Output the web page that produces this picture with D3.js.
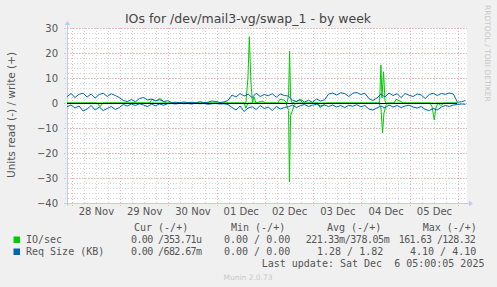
<!DOCTYPE html>
<head>
    <meta charset="utf-8">
    <title>IOs for /dev/mail3-vg/swap_1 - by week</title>
    <script type="text/javascript" src="https://d3js.org/d3.v7.min.js"></script>
    <style>
        body { margin: 0; background: #f0f0f0; }
        svg { display: block; }
    </style>
</head>
<body>
<div id="container"></div>

<script>
    //------------------------1. DATA------------------------//
    // time window of the graph (UTC), blue series sampled every 2 hours from start
    const startTime = Date.UTC(2025, 10, 27, 21, 40);
    const spanHours = 198.76;
    const stepHours = 2;

    const dayLabels = ["28 Nov", "29 Nov", "30 Nov", "01 Dec", "02 Dec", "03 Dec", "04 Dec", "05 Dec"];
    const yTicks = [30, 20, 10, 0, -10, -20, -30, -40];

    // Req Size (KB) write (+)
    const reqWrite = [2.5, 3.8, 2.2, 3.5, 3.9, 2.4, 3.6, 2.0, 3.4, 3.9, 2.6, 3.7, 3.0, 2.2,
        1.0, 0.6, 1.4, 0.5, 1.8, 2.2, 1.2, 1.6, 0.9, 1.3, 0.6, 0.9,
        0.2, 0.3, 0.1, 0.4, 0.2, 0.3, 0.1, 0.5, 0.2, 0.3, 0.8, 0.6, 0.2, 0.4, 1.0,
        3.2, 2.4, 3.8, 2.8, 3.5, 2.2, 3.9, 2.6, 3.4, 2.9, 3.7, 2.3, 3.6, 3.0,
        2.8, 1.2, 0.6, 1.5, 0.4, 1.1, 0.3, 1.6, 0.8, 1.3,
        3.6, 4.0, 3.2, 4.1, 3.8, 2.6, 3.9, 4.2, 3.4, 3.9,
        1.8, 1.0, 2.0,
        3.5, 2.4, 4.0, 3.0, 3.7, 2.2, 3.8, 3.1,
        2.6, 3.6, 3.2, 1.8,
        3.4, 3.9, 3.0, 3.8, 3.5, 4.0, 3.6,
        0.3, 0.5, 1.0];

    // Req Size (KB) read (-)
    const reqRead = [-1.5, -0.8, -2.0, -1.2, -3.2, -2.4, -1.0, -2.8, -1.6, -3.0, -2.2, -1.4, -2.6, -1.8,
        -0.6, -1.2, -0.4, -1.0, -0.3, -0.8, -1.4, -0.5, -1.1, -0.4, -0.9, -0.3,
        -0.2, -0.4, -0.1, -0.3, -0.2, -0.4, -0.1, -0.3, -0.2, -0.5, -0.3, -0.2, -0.4, -0.3, -0.6,
        -1.8, -2.8, -1.2, -3.4, -2.0, -1.5, -2.6, -1.0, -2.2, -1.6, -3.0, -1.4, -2.4, -1.8,
        -1.5, -0.8, -1.8, -1.0, -0.6, -1.4, -0.9, -0.5, -1.2, -0.8,
        -1.4, -0.8, -1.6, -1.0, -1.8, -0.9, -1.3, -0.7, -1.5, -1.0,
        -2.4, -2.8, -2.0,
        -1.2, -2.0, -0.8, -1.6, -1.0, -1.8, -1.2, -0.9,
        -1.6, -2.0, -1.4, -2.6,
        -3.0, -2.2, -2.8, -1.6, -1.0, -1.4, -0.8,
        -0.6, -0.4, -0.5];

    // IO/sec write (+) : [hours after start, value]
    const ioWrite = [[0, 0], [41.2, 0], [42.2, 1.5], [44.2, 0.8], [46.2, 1.8], [48.2, 0.5], [49.2, 0],
        [88.9, 0], [89.9, 10], [90.6, 26.5], [91.4, 8], [92.2, 0], [92.9, 2.5], [93.9, 0],
        [96.9, 0.8], [98.9, 0], [104.8, 0], [105.8, 1.5], [107.8, 1.2], [109.3, 0],
        [110.1, 3], [110.6, 20.8], [111.1, 2], [111.8, 0], [115.8, 1.2], [117.3, 0],
        [155.3, 0], [156.0, 15.2], [156.5, 2], [157.3, 12.5], [158.0, 1], [158.5, 0],
        [162.5, 0], [163.5, 1.5], [165.5, 0.8], [167.0, 0], [193.8, 0]];

    // IO/sec read (-)
    const ioRead = [[0, 0], [14.9, 0], [16.4, -1.5], [17.9, 0], [88.0, 0], [88.9, -2], [89.9, 0],
        [108.8, 0], [110.1, -3], [110.5, -31.5], [111.1, -5], [111.8, -3.5], [112.8, -1], [113.8, 0],
        [124.7, 0], [125.7, -1.8], [127.2, -1], [128.7, 0],
        [155.0, 0], [156.0, -2], [156.8, -11.9], [157.5, -4], [158.5, -1], [159.5, 0],
        [180.4, 0], [181.4, -1.5], [182.5, -6.8], [183.3, -2], [184.3, 0], [185.8, -1], [187.3, 0], [193.8, 0]];

    const legendRows = [
        { name: "IO/sec", color: "#00cc00", cur: "0.00 /353.71u", min: "0.00 / 0.00", avg: "221.33m/378.05m", max: "161.63 /128.32" },
        { name: "Req Size (KB)", color: "#0066b3", cur: "0.00 /682.67m", min: "0.00 / 0.00", avg: "1.28 / 1.82", max: "4.10 / 4.10" }
    ];

    //------------------------2. SVG------------------------//
    const width = 497;
    const height = 287;
    const plot = { left: 67, right: 467, top: 28, bottom: 203 };
    const textColor = "#555";
    const sans = "DejaVu Sans, sans-serif";
    const mono = "DejaVu Sans Mono, monospace";

    const svg = d3.select("div#container").append("svg")
        .attr("width", width)
        .attr("height", height);

    svg.append("rect").attr("width", width).attr("height", height).attr("fill", "#f0f0f0");
    svg.append("rect")
        .attr("x", plot.left).attr("y", plot.top)
        .attr("width", plot.right - plot.left).attr("height", plot.bottom - plot.top)
        .attr("fill", "#ffffff");

    //------------------------SCALES------------------------//
    const hour = 3600 * 1000;
    const xScale = d3.scaleUtc()
        .domain([new Date(startTime), new Date(startTime + spanHours * hour)])
        .range([plot.left, plot.right]);
    const yScale = d3.scaleLinear().domain([-40, 30]).range([plot.bottom, plot.top]);

    //------------------------GRID------------------------//
    const minorX = d3.utcHour.every(6).range(xScale.domain()[0], xScale.domain()[1]);
    const majorX = d3.utcDay.range(xScale.domain()[0], xScale.domain()[1]);
    const minorY = d3.range(-40, 31, 2);
    const minorColor = "#d4d4d4";
    const majorColor = "#f2b0b0";

    const grid = svg.append("g");
    grid.selectAll(".minx").data(minorX).enter().append("line")
        .attr("x1", d => Math.round(xScale(d)) + 0.5).attr("x2", d => Math.round(xScale(d)) + 0.5)
        .attr("y1", plot.top).attr("y2", plot.bottom + 2)
        .attr("stroke", minorColor).attr("stroke-dasharray", "1,2");
    grid.selectAll(".miny").data(minorY).enter().append("line")
        .attr("x1", plot.left - 2).attr("x2", plot.right)
        .attr("y1", d => Math.round(yScale(d)) + 0.5).attr("y2", d => Math.round(yScale(d)) + 0.5)
        .attr("stroke", minorColor).attr("stroke-dasharray", "1,2");
    grid.selectAll(".majx").data(majorX).enter().append("line")
        .attr("x1", d => Math.round(xScale(d)) + 0.5).attr("x2", d => Math.round(xScale(d)) + 0.5)
        .attr("y1", plot.top).attr("y2", plot.bottom + 3)
        .attr("stroke", majorColor).attr("stroke-dasharray", "1,2");
    grid.selectAll(".majy").data(yTicks).enter().append("line")
        .attr("x1", plot.left - 3).attr("x2", plot.right)
        .attr("y1", d => Math.round(yScale(d)) + 0.5).attr("y2", d => Math.round(yScale(d)) + 0.5)
        .attr("stroke", majorColor).attr("stroke-dasharray", "1,2");

    //------------------------AXES------------------------//
    const xaxis = d3.axisBottom(xScale)
        .tickValues(majorX.map(d => new Date(+d + 12 * hour)))
        .tickFormat((d, i) => dayLabels[i])
        .tickSize(0).tickPadding(5);
    const gx = svg.append("g")
        .attr("transform", "translate(0," + plot.bottom + ")")
        .call(xaxis);
    gx.select(".domain").remove();
    gx.selectAll("text").attr("font-family", sans).attr("font-size", "10px").attr("fill", textColor);

    const yaxis = d3.axisLeft(yScale).tickValues(yTicks).tickSize(0).tickPadding(9);
    const gy = svg.append("g")
        .attr("transform", "translate(" + plot.left + ",0)")
        .call(yaxis);
    gy.select(".domain").remove();
    gy.selectAll("text").attr("font-family", sans).attr("font-size", "10px").attr("fill", textColor);

    // axis lines with arrows
    const axisColor = "#c4cbf0";
    svg.append("line").attr("x1", plot.left - 3).attr("x2", plot.right + 2)
        .attr("y1", plot.bottom + 0.5).attr("y2", plot.bottom + 0.5).attr("stroke", axisColor);
    svg.append("path").attr("d", `M${plot.right + 2},${plot.bottom - 2.5}L${plot.right + 6},${plot.bottom + 0.5}L${plot.right + 2},${plot.bottom + 3.5}Z`)
        .attr("fill", axisColor);
    svg.append("line").attr("x1", plot.left + 0.5).attr("x2", plot.left + 0.5)
        .attr("y1", plot.bottom + 3).attr("y2", plot.top - 3).attr("stroke", axisColor);
    svg.append("path").attr("d", `M${plot.left - 2.5},${plot.top - 3}L${plot.left + 0.5},${plot.top - 7}L${plot.left + 3.5},${plot.top - 3}Z`)
        .attr("fill", axisColor);

    //------------------------LINES------------------------//
    const line = d3.line()
        .x(d => xScale(d[0]))
        .y(d => yScale(d[1]));

    const reqTimes = reqWrite.map((v, i) => new Date(startTime + i * stepHours * hour));
    const toPoints = arr => arr.map(p => [new Date(startTime + p[0] * hour), p[1]]);

    const series = [
        { pts: toPoints(ioWrite), color: "#00cc00" },
        { pts: toPoints(ioRead), color: "#00cc00" },
        { pts: reqWrite.map((v, i) => [reqTimes[i], v]), color: "#0066b3" },
        { pts: reqRead.map((v, i) => [reqTimes[i], v]), color: "#0066b3" }
    ];

    svg.append("g").selectAll("path").data(series).enter().append("path")
        .attr("d", d => line(d.pts))
        .attr("fill", "none")
        .attr("stroke", d => d.color)
        .attr("stroke-width", 1);

    // zero line
    svg.append("line")
        .attr("x1", plot.left).attr("x2", xScale(new Date(startTime + 193.8 * hour)))
        .attr("y1", yScale(0) + 0.5).attr("y2", yScale(0) + 0.5)
        .attr("stroke", "#000");

    //------------------------TEXTS------------------------//
    svg.append("text").attr("x", 248).attr("y", 23).attr("text-anchor", "middle")
        .attr("font-family", sans).attr("font-size", "12.5px").attr("fill", "#444")
        .text("IOs for /dev/mail3-vg/swap_1 - by week");

    svg.append("text").attr("transform", "translate(15,115) rotate(-90)").attr("text-anchor", "middle")
        .attr("font-family", sans).attr("font-size", "10.5px").attr("fill", textColor)
        .text("Units read (-) / write (+)");

    svg.append("text").attr("transform", "translate(485,5) rotate(90)")
        .attr("font-family", sans).attr("font-size", "7.5px").attr("fill", "#c8c8c8")
        .text("RRDTOOL / TOBI OETIKER");

    //------------------------LEGEND------------------------//
    const leg = svg.append("g").attr("font-family", mono).attr("font-size", "10px").attr("fill", textColor);
    const headers = [["Cur (-/+)", 134], ["Min (-/+)", 231], ["Avg (-/+)", 327], ["Max (-/+)", 422.7]];
    headers.forEach(h => leg.append("text").attr("x", h[1]).attr("y", 231).text(h[0]));

    // [x start, squeezed width]
    const cols = [["cur", [131, 71], [131, 71]], ["min", [224, 0], [224, 0]],
        ["avg", [305.7, 84], [317, 0]], ["max", [398.7, 77], [410, 0]]];
    legendRows.forEach((r, i) => {
        const y = 243 + i * 12;
        leg.append("rect").attr("x", 13.5).attr("y", y - 6.5).attr("width", 6.5).attr("height", 6.5).attr("fill", r.color);
        leg.append("text").attr("x", 26).attr("y", y).text(r.name);
        cols.forEach(c => {
            const pos = i === 0 ? c[1] : c[2];
            const t = leg.append("text").attr("x", pos[0]).attr("y", y).text(r[c[0]]);
            if (pos[1]) t.attr("textLength", pos[1]).attr("lengthAdjust", "spacing");
        });
    });
    leg.append("text").attr("x", 261.7).attr("y", 267).text("Last update: Sat Dec  6 05:00:05 2025")
        .attr("xml:space", "preserve").style("white-space", "pre");

    svg.append("text").attr("x", 248).attr("y", 280).attr("text-anchor", "middle")
        .attr("font-family", sans).attr("font-size", "7.5px").attr("fill", "#c8c8c8")
        .text("Munin 2.0.73");
</script>
</body>
